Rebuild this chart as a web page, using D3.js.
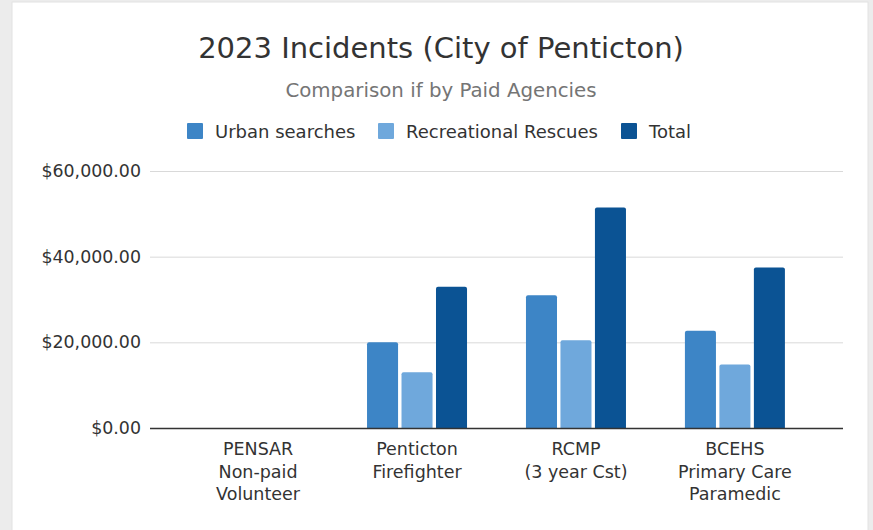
<!DOCTYPE html>
<html lang="en">
<head>
<meta charset="UTF-8">
<script src="https://d3js.org/d3.v7.min.js"></script>
<title>2023 Incidents</title>
<style>
  html, body { margin: 0; padding: 0; background: #ececec; }
  text { font-family: "DejaVu Sans", sans-serif; }
</style>
</head>
<body>
<div id="container"></div>
<script>
  // Datos
  var categories = [["PENSAR", "Non-paid", "Volunteer"], ["Penticton", "Firefighter"], ["RCMP", "(3 year Cst)"], ["BCEHS", "Primary Care", "Paramedic"]];
  var seriesNames = ["Urban searches", "Recreational Rescues", "Total"];
  var urbanSearches = [0, 20000, 31000, 22700];
  var recreationalRescues = [0, 13000, 20500, 14800];
  var totals = [0, 33000, 51500, 37500];
  var yTicks = [0, 20000, 40000, 60000];
  var colors = ["#3d85c6", "#6fa8dc", "#0b5394"];

  var W = 873, H = 530;
  var margin = { top: 171, right: 30, bottom: 102, left: 150 };
  var width = 843 - margin.left, height = 428 - margin.top;

  var svg = d3.select("#container").append("svg")
    .attr("width", W).attr("height", H)
    .style("display", "block");

  // fondo gris y tarjeta blanca
  svg.append("rect").attr("width", W).attr("height", H).attr("fill", "#ececec");
  svg.append("rect").attr("x", 12).attr("y", 2).attr("width", 856).attr("height", 530)
    .attr("fill", "#fff").attr("stroke", "#e2e2e2");

  // titulos
  svg.append("text").attr("x", 441).attr("y", 58).attr("text-anchor", "middle")
    .attr("font-size", "29px").attr("fill", "#333").text("2023 Incidents (City of Penticton)");
  svg.append("text").attr("x", 441).attr("y", 97).attr("text-anchor", "middle")
    .attr("font-size", "19.8px").attr("fill", "#757575").text("Comparison if by Paid Agencies");

  var g = svg.append("g").attr("transform", "translate(" + margin.left + "," + margin.top + ")");

  var x0 = d3.scaleBand().domain(d3.range(categories.length)).range([0, width])
    .paddingInner(0).paddingOuter(0.18);
  var x1 = d3.scaleBand().domain(d3.range(seriesNames.length)).range([0, 100]).paddingInner(0.1);
  var y = d3.scaleLinear().domain([0, 60000]).range([height, 0]);

  // lineas guia
  g.append("g").selectAll("line").data(yTicks.slice(1)).enter().append("line")
    .attr("x1", 0).attr("x2", width)
    .attr("y1", function (d) { return y(d) + 0.5; }).attr("y2", function (d) { return y(d) + 0.5; })
    .attr("stroke", "#d9d9d9").attr("stroke-width", 1);

  // eje y
  var yAxis = d3.axisLeft(y).tickValues(yTicks).tickSize(0).tickPadding(9)
    .tickFormat(function (d) { return "$" + d3.format(",.2f")(d); });
  var ya = g.append("g").call(yAxis);
  ya.select(".domain").remove();
  ya.selectAll("text").attr("font-size", "17.4px").attr("fill", "#333").attr("font-family", "DejaVu Sans");

  // barras
  var series = [urbanSearches, recreationalRescues, totals];
  var groups = g.selectAll(".grp").data(categories).enter().append("g")
    .attr("transform", function (d, i) { return "translate(" + (x0(i) + x0.bandwidth() / 2 - 50) + ",0)"; });
  groups.selectAll("path").data(function (d, i) {
      return series.map(function (s, k) { return { k: k, v: s[i] }; }).filter(function (d) { return d.v > 0; });
    })
    .enter().append("path")
    .attr("fill", function (d) { return colors[d.k]; })
    .attr("d", function (d) {
      var bx = x1(d.k), bw = x1.bandwidth(), top = y(d.v), r = 2;
      return "M" + bx + "," + height + "V" + (top + r) + "Q" + bx + "," + top + " " + (bx + r) + "," + top +
        "H" + (bx + bw - r) + "Q" + (bx + bw) + "," + top + " " + (bx + bw) + "," + (top + r) + "V" + height + "Z";
    });

  // linea base
  g.append("line").attr("x1", 0).attr("x2", width).attr("y1", height + 0.5).attr("y2", height + 0.5)
    .attr("stroke", "#333").attr("stroke-width", 1.5);

  // etiquetas de categorias
  var xa = g.append("g");
  categories.forEach(function (lines, i) {
    var t = xa.append("text").attr("text-anchor", "middle").attr("font-size", "17.5px").attr("fill", "#333")
      .attr("x", x0(i) + x0.bandwidth() / 2).attr("y", height + 27);
    lines.forEach(function (l, j) {
      t.append("tspan").attr("x", x0(i) + x0.bandwidth() / 2).attr("dy", j === 0 ? 0 : 22.5).text(l);
    });
  });

  // leyenda
  var legendX = [187, 378, 621];
  var lg = svg.append("g");
  seriesNames.forEach(function (n, i) {
    lg.append("rect").attr("x", legendX[i]).attr("y", 123).attr("width", 16).attr("height", 16)
      .attr("rx", 1).attr("fill", colors[i]);
    lg.append("text").attr("x", legendX[i] + 28).attr("y", 137.5).attr("font-size", "18px").attr("fill", "#333").text(n);
  });
</script>
</body>
</html>
